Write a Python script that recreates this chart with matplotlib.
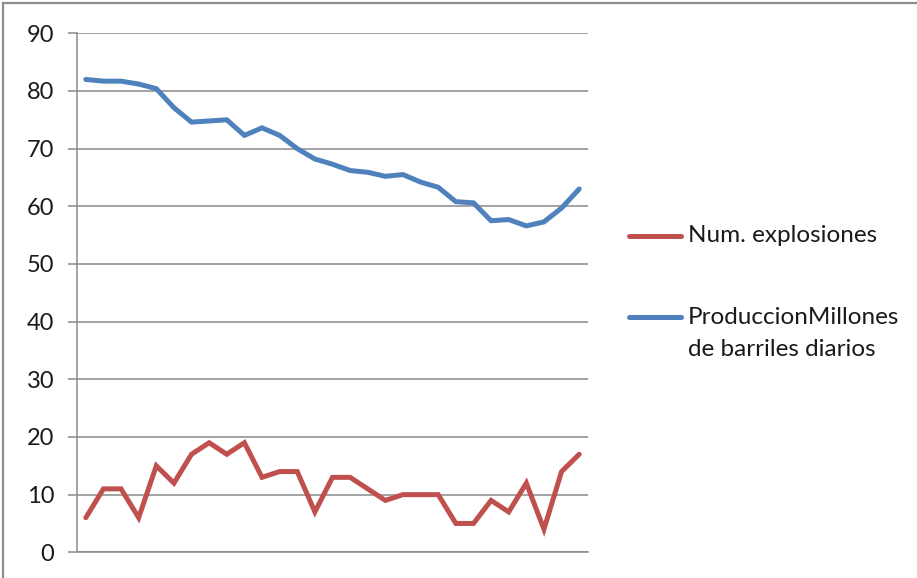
import matplotlib
matplotlib.use("Agg")
import matplotlib.pyplot as plt
from matplotlib.lines import Line2D

# Yearly series
explosiones = [6, 11, 11, 6, 15, 12, 17, 19, 17, 19, 13, 14, 14, 7, 13, 13, 11, 9,
               10, 10, 10, 5, 5, 9, 7, 12, 4, 14, 17]
produccion = [82.0, 81.7, 81.7, 81.2, 80.4, 77.1, 74.6, 74.8, 75.0, 72.3, 73.6, 72.3,
              70.0, 68.2, 67.3, 66.2, 65.9, 65.2, 65.5, 64.2, 63.3, 60.8, 60.6, 57.5,
              57.7, 56.6, 57.3, 59.7, 63.0]
y_ticks = [0, 10, 20, 30, 40, 50, 60, 70, 80, 90]
labels = ["Num. explosiones", "ProduccionMillones\nde barriles diarios"]

RED = "#C0504D"
BLUE = "#4F81BD"
GRID = "#8A8A8A"
FONT = "Lato"

W, H = 917, 578
fig = plt.figure(figsize=(W / 100, H / 100), dpi=100)
fig.patch.set_facecolor("white")

# plot area in pixel coordinates
x0, x1 = 77, 588
y_top, y_bot = 33.3, 552.3
ax = fig.add_axes([x0 / W, 1 - y_bot / H, (x1 - x0) / W, (y_bot - y_top) / H])

x = list(range(len(explosiones)))
ax.plot(x, explosiones, color=RED, lw=3.6, solid_capstyle="round", solid_joinstyle="miter", zorder=3)
ax.plot(x, produccion, color=BLUE, lw=3.6, solid_capstyle="round", solid_joinstyle="miter", zorder=3)

ax.set_xlim(-0.5, len(x) - 0.5)
ax.set_ylim(0, 90)
ax.set_yticks(y_ticks)
ax.set_xticks([])
ax.yaxis.grid(True, color=GRID, lw=1.1)
ax.set_axisbelow(True)
for side in ("top", "right"):
    ax.spines[side].set_visible(False)
for side in ("left", "bottom"):
    ax.spines[side].set_color(GRID)
    ax.spines[side].set_linewidth(1.1)
ax.tick_params(axis="y", direction="out", length=6.5, width=1.1, color=GRID,
               pad=10, labelsize=17, labelcolor="#1a1a1a")
for lbl in ax.get_yticklabels():
    lbl.set_fontfamily(FONT)

# legend drawn in pixel positions
def px(xp, yp):
    return xp / W, 1 - yp / H

legend_rows = ((RED, 236, labels[0].split("\n")), (BLUE, 317, labels[1].split("\n")))
for color, ly, lines in legend_rows:
    (ax0, ay), (ax1, _) = px(629, ly), px(681, ly)
    fig.add_artist(Line2D([ax0, ax1], [ay, ay], color=color, lw=3.6,
                          solid_capstyle="round", transform=fig.transFigure))
    for i, line in enumerate(lines):
        tx, tyf = px(688, ly + 33 * i)
        fig.text(tx, tyf, line, fontsize=17.5, family=FONT, color="#1a1a1a",
                 va="center", ha="left")

# outer frame (top and left edges)
fig.add_artist(Line2D([2.5 / W, 2.5 / W], [0, 1 - 3 / H], color="#8C8C8C", lw=1.6,
                      transform=fig.transFigure))
fig.add_artist(Line2D([2.5 / W, 1], [1 - 3 / H, 1 - 3 / H], color="#8C8C8C", lw=1.6,
                      transform=fig.transFigure))

fig.savefig("out.png", dpi=100)
